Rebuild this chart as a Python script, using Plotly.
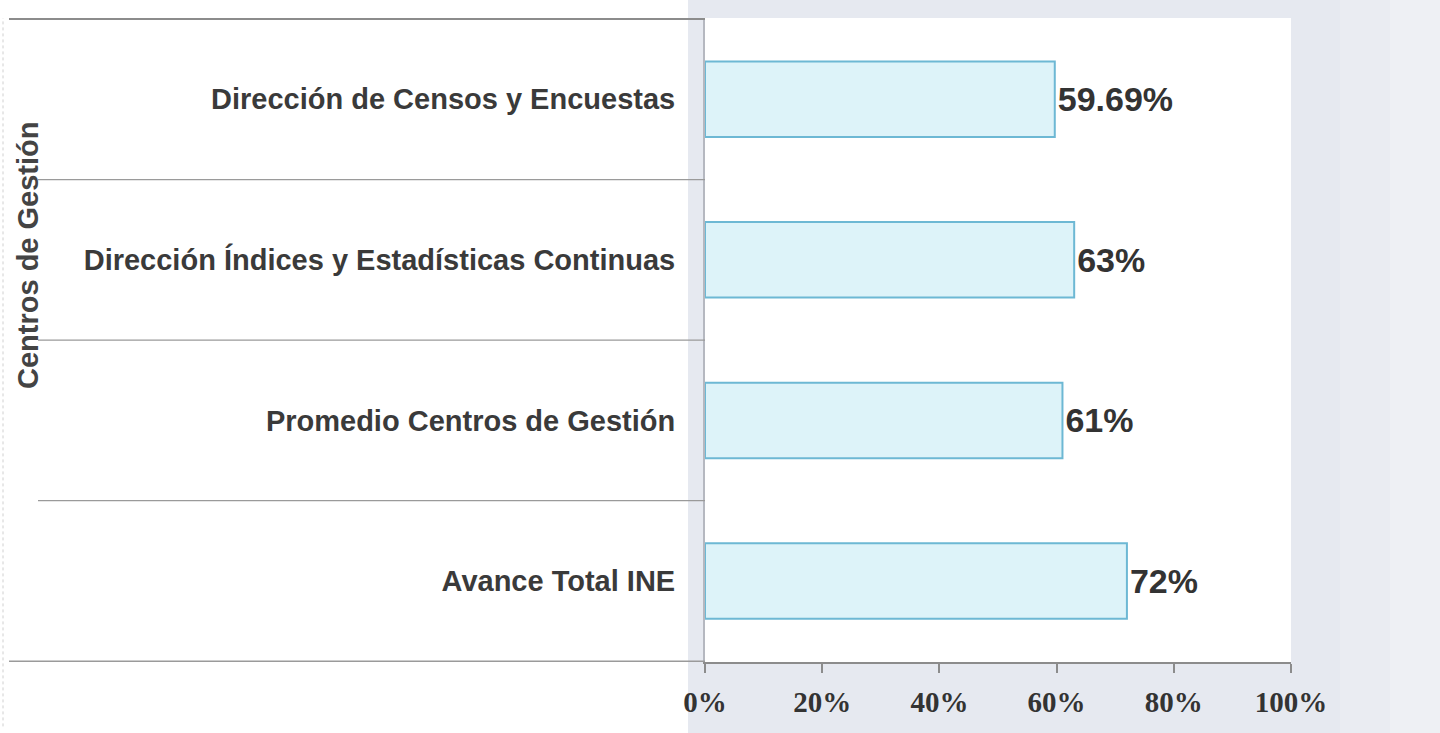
import plotly.graph_objects as go

categories = [
    "Dirección de Censos y Encuestas",
    "Dirección Índices y Estadísticas Continuas",
    "Promedio Centros de Gestión",
    "Avance Total INE",
]
values = [59.69, 63, 61, 72]
value_labels = ["59.69%", "63%", "61%", "72%"]
x_ticks = [0, 20, 40, 60, 80, 100]
x_tick_labels = ["0%", "20%", "40%", "60%", "80%", "100%"]
axis_title = "Centros de Gestión"

W, H = 1440, 733
ML, MR, MT, MB = 705, 149, 18, 71


def px_x(p):
    return (p - ML) / (W - ML - MR)


fig = go.Figure()
fig.add_trace(go.Bar(
    y=categories,
    x=values,
    orientation="h",
    width=0.47,
    marker=dict(color="#ddf3f9", line=dict(color="#6db8d4", width=2)),
    text=value_labels,
    texttemplate="<b>%{text}</b>",
    textposition="outside",
    cliponaxis=False,
    textfont=dict(family="Arial, Liberation Sans", size=34, color="#333333"),
    hoverinfo="skip",
))

sep_color = "#9a9a9a"
shapes = []
# soft grey backdrop on the right side, fading towards the right edge
bands = [(688, 1340, "#e6e9f0"), (1340, 1390, "#eaecf2"), (1390, W + 5, "#eef0f4")]
for a, b, c in bands:
    shapes.append(dict(type="rect", xref="paper", yref="paper", x0=px_x(a), x1=px_x(b), y0=-1, y1=2,
                       layer="below", line=dict(width=0), fillcolor=c))
shapes += [
    dict(type="rect", xref="x domain", yref="y domain", x0=0, x1=1, y0=0, y1=1,
         layer="below", line=dict(width=0), fillcolor="#ffffff"),
    # top line of the label panel
    dict(type="line", xref="paper", yref="y", x0=px_x(9), x1=0, y0=-0.5, y1=-0.5,
         line=dict(color="#8c8c8c", width=2)),
    # left border of the label panel
    dict(type="line", xref="paper", yref="paper", x0=px_x(3), x1=px_x(3), y0=-0.1, y1=1,
         line=dict(color="#d0d0d0", width=1, dash="dot")),
    # bottom line
    dict(type="line", xref="paper", yref="y", x0=px_x(9), x1=0, y0=3.5, y1=3.5,
         line=dict(color=sep_color, width=1.5)),
]
for b in [0.5, 1.5, 2.5]:
    shapes.append(dict(type="line", xref="paper", yref="y", x0=px_x(38), x1=0, y0=b, y1=b,
                       line=dict(color=sep_color, width=1.2)))

fig.update_layout(
    width=W, height=H,
    margin=dict(l=ML, r=MR, t=MT, b=MB),
    paper_bgcolor="#ffffff",
    plot_bgcolor="rgba(0,0,0,0)",
    showlegend=False,
    shapes=shapes,
    xaxis=dict(
        range=[0, 100],
        tickvals=x_ticks,
        ticktext=["<b>" + t + "</b>" for t in x_tick_labels],
        showgrid=False,
        zeroline=False,
        showline=True,
        linecolor="#8c8c8c",
        linewidth=1.5,
        ticks="outside",
        ticklen=9,
        tickcolor="#8c8c8c",
        tickwidth=1.5,
        ticklabelstandoff=4,
        tickfont=dict(family="Liberation Serif, Times New Roman, serif", size=29, color="#333333"),
        fixedrange=True,
    ),
    yaxis=dict(
        autorange="reversed",
        showgrid=False,
        zeroline=False,
        showline=True,
        linecolor="#b5b8c0",
        linewidth=2,
        ticks="",
        ticklabelstandoff=22,
        tickprefix="<b>",
        ticksuffix="</b>",
        tickfont=dict(family="Arial, Liberation Sans", size=29, color="#3a3a3a"),
        fixedrange=True,
    ),
    annotations=[
        dict(text="<b>" + axis_title + "</b>", xref="paper", yref="paper",
             x=px_x(28), y=1 - (255 - MT) / (H - MT - MB), textangle=-90,
             showarrow=False, xanchor="center", yanchor="middle",
             font=dict(family="Arial, Liberation Sans", size=29, color="#444444")),
    ],
)

fig.write_html("out.html", config={"displayModeBar": False},
               post_script="document.body.style.margin='0';document.body.style.overflow='hidden';")
